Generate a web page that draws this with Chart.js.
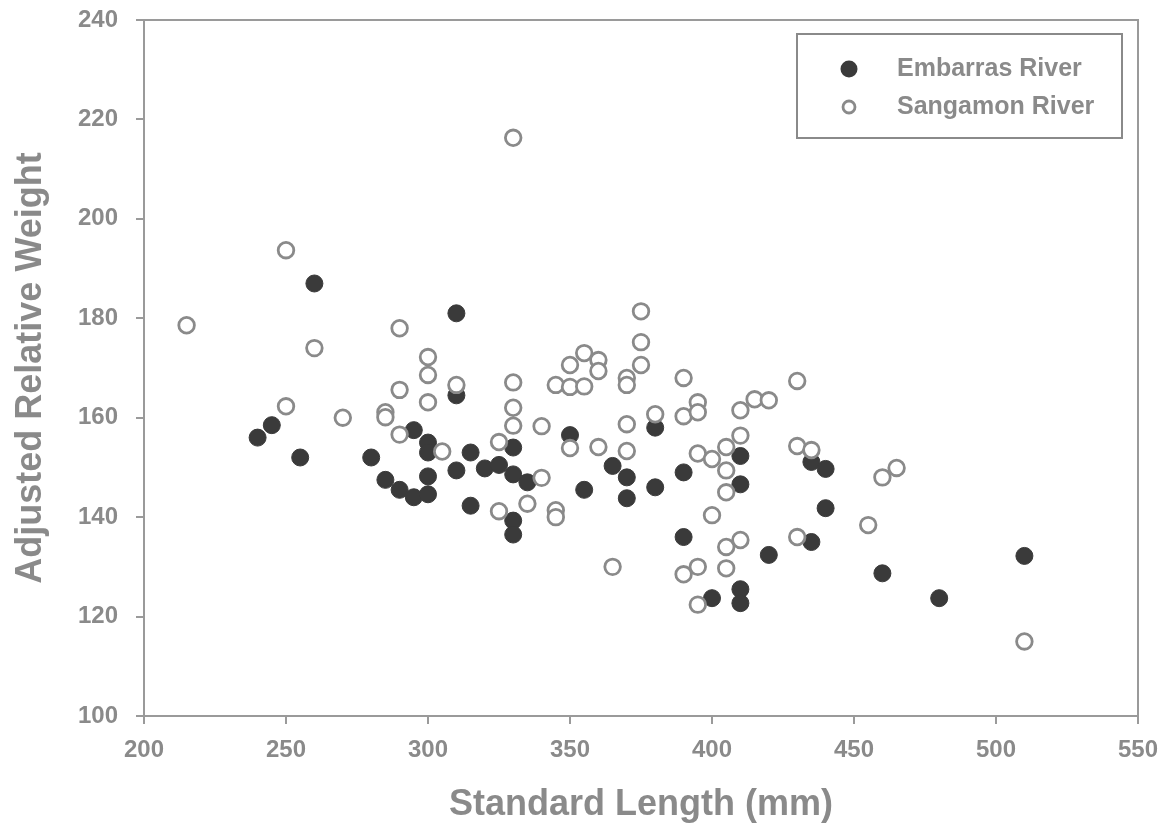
<!DOCTYPE html>
<html>
<head>
<meta charset="utf-8">
<script src="https://cdn.jsdelivr.net/npm/chart.js@4"></script>
<style>
  html, body { margin: 0; padding: 0; background: #fff; }
  #wrap { width: 1173px; height: 839px; }
</style>
</head>
<body>
<div id="wrap"><canvas id="chart" width="1173" height="839"></canvas></div>
<script>
// Embarras River (punti pieni)
const embarrasX = [240, 245, 255, 260, 280, 285, 290, 295, 295, 300, 300, 300, 300, 310, 310, 310, 315, 315, 320, 325,
  330, 330, 330, 330, 335, 350, 355, 365, 370, 370, 380, 380, 390, 390, 400, 410, 410, 410, 410, 420,
  435, 435, 440, 440, 460, 480, 510];
const embarrasY = [156, 158.5, 152, 187, 152, 147.5, 145.5, 157.5, 144, 155, 153, 148.2, 144.6, 181, 164.5, 149.4, 153, 142.3, 149.8, 150.5,
  154, 148.6, 139.3, 136.5, 147, 156.5, 145.5, 150.3, 148, 143.8, 158, 146, 149, 136, 123.7, 152.3, 146.6, 125.5, 122.7, 132.4,
  151.1, 135, 149.7, 141.8, 128.7, 123.7, 132.2];

// Sangamon River (punti vuoti)
const sangamonX = [215, 250, 250, 260, 270, 285, 285, 290, 290, 290, 300, 300, 300, 305, 310, 325, 325, 330, 330, 330,
  330, 335, 340, 340, 345, 345, 345, 350, 350, 350, 355, 355, 360, 360, 360, 365, 370, 370, 370, 370,
  375, 375, 375, 380, 390, 390, 390, 395, 395, 395, 395, 395, 400, 400, 405, 405, 405, 405, 405, 410,
  410, 410, 415, 420, 430, 430, 430, 435, 455, 460, 465, 510];
const sangamonY = [178.6, 193.7, 162.3, 174, 160, 161.1, 160.1, 178, 165.6, 156.6, 172.2, 168.6, 163.1, 153.2, 166.6, 155.1, 141.2, 216.3, 167.1, 162,
  158.4, 142.7, 158.3, 147.9, 141.4, 140, 166.6, 170.6, 166.2, 153.9, 173, 166.3, 171.6, 169.4, 154.1, 130, 168, 166.6, 158.7, 153.3,
  181.4, 175.2, 170.6, 160.7, 168, 160.3, 128.5, 163.1, 161.1, 152.8, 130, 122.4, 151.7, 140.4, 154.1, 149.4, 145, 134, 129.7, 161.5,
  156.4, 135.4, 163.7, 163.5, 167.4, 154.3, 136, 153.5, 138.4, 148, 149.9, 115];

const seriesNames = ["Embarras River", "Sangamon River"];
const xTitle = "Standard Length (mm)";
const yTitle = "Adjusted Relative Weight";

const grey = "#8a8a8a";
const dark = "#3a3a3a";
const fontFam = "'Liberation Sans', Arial, sans-serif";

function toPoints(xs, ys) {
  return xs.map((x, i) => ({x: x, y: ys[i]}));
}

// cornice sopra e a destra + legenda in un riquadro
const framePlugin = {
  id: "frame",
  afterDraw(chart) {
    const {ctx, chartArea: a} = chart;
    ctx.save();
    ctx.strokeStyle = "#9a9a9a";
    ctx.lineWidth = 2;
    ctx.beginPath();
    ctx.moveTo(a.left, a.top);
    ctx.lineTo(a.right, a.top);
    ctx.lineTo(a.right, a.bottom);
    ctx.stroke();

    // legenda
    ctx.strokeStyle = "#8a8a8a";
    ctx.lineWidth = 2;
    ctx.fillStyle = "#fff";
    ctx.fillRect(797, 34, 325, 104);
    ctx.strokeRect(797, 34, 325, 104);

    ctx.beginPath();
    ctx.arc(849, 69, 8.5, 0, Math.PI * 2);
    ctx.fillStyle = dark;
    ctx.fill();

    ctx.beginPath();
    ctx.arc(849, 107, 6, 0, Math.PI * 2);
    ctx.strokeStyle = grey;
    ctx.lineWidth = 2.8;
    ctx.stroke();

    ctx.fillStyle = grey;
    ctx.font = "bold 25px " + fontFam;
    ctx.textBaseline = "middle";
    ctx.fillText(seriesNames[0], 897, 69);
    ctx.fillText(seriesNames[1], 897, 107);
    ctx.restore();
  }
};

new Chart(document.getElementById("chart"), {
  type: "scatter",
  data: {
    datasets: [
      {
        label: seriesNames[0],
        data: toPoints(embarrasX, embarrasY),
        pointRadius: 8.5,
        pointBackgroundColor: dark,
        pointBorderColor: dark,
        pointBorderWidth: 1,
        order: 2
      },
      {
        label: seriesNames[1],
        data: toPoints(sangamonX, sangamonY),
        pointRadius: 7.8,
        pointBackgroundColor: "#fff",
        pointBorderColor: grey,
        pointBorderWidth: 2.8,
        order: 1
      }
    ]
  },
  options: {
    responsive: false,
    animation: false,
    layout: { padding: { top: 20, right: 35, left: 0, bottom: 0 } },
    plugins: {
      legend: { display: false },
      tooltip: { enabled: false }
    },
    scales: {
      x: {
        type: "linear",
        min: 200,
        max: 550,
        ticks: {
          stepSize: 50,
          color: grey,
          padding: 12,
          font: { family: fontFam, size: 24, weight: "bold" }
        },
        grid: { drawOnChartArea: false, drawTicks: true, tickLength: 8, color: "#9a9a9a", lineWidth: 2 },
        border: { color: "#9a9a9a", width: 2 },
        title: {
          display: true,
          text: xTitle,
          color: grey,
          padding: { top: 0, bottom: 12 },
          font: { family: fontFam, size: 36, weight: "bold" }
        },
        afterFit(scale) { scale.height = 123; }
      },
      y: {
        type: "linear",
        min: 100,
        max: 240,
        ticks: {
          stepSize: 20,
          color: grey,
          padding: 18,
          font: { family: fontFam, size: 24, weight: "bold" }
        },
        grid: { drawOnChartArea: false, drawTicks: true, tickLength: 8, color: "#9a9a9a", lineWidth: 2 },
        border: { color: "#9a9a9a", width: 2 },
        title: {
          display: true,
          text: yTitle,
          color: grey,
          padding: { top: 9, bottom: 0 },
          font: { family: fontFam, size: 36, weight: "bold" }
        },
        afterFit(scale) {
          scale.width = 144;
          scale.paddingTop = 0;
          scale.paddingBottom = 0;
        }
      }
    }
  },
  plugins: [framePlugin]
});
</script>
</body>
</html>
